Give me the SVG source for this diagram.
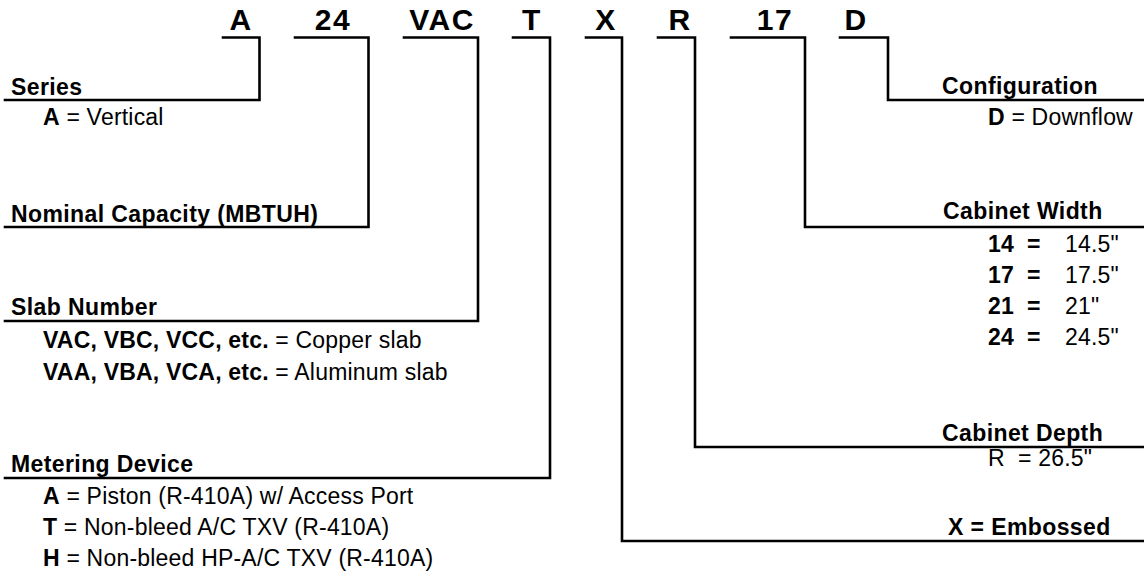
<svg xmlns="http://www.w3.org/2000/svg" width="1144" height="577" viewBox="0 0 1144 577">
<style>
  text { font-family: "Liberation Sans", Arial, sans-serif; fill: #000; }
  .code { font-size: 30px; font-weight: bold; letter-spacing: 1.5px; text-anchor: middle; }
  .hdr { font-size: 23px; font-weight: bold; letter-spacing: 0.4px; }
  .item { font-size: 23px; letter-spacing: 0.2px; }
  .b { font-weight: bold; }
  .ln { fill: none; stroke: #000; stroke-width: 2.6; stroke-linecap: square; stroke-linejoin: miter; }
</style>
<rect width="1144" height="577" fill="#fff"/>
<g id="codes">
  <text class="code" x="241" y="29.5">A</text>
  <text class="code" x="333" y="29.5">24</text>
  <text class="code" x="442" y="29.5">VAC</text>
  <text class="code" x="532" y="29.5">T</text>
  <text class="code" x="606" y="29.5">X</text>
  <text class="code" x="680" y="29.5">R</text>
  <text class="code" x="775" y="29.5">17</text>
  <text class="code" x="856" y="29.5">D</text>
</g>
<g id="connectors">
  <polyline class="ln" points="223,37.5 259.5,37.5 259.5,100 5,100"/>
  <polyline class="ln" points="295,37.5 368.5,37.5 368.5,227 5,227"/>
  <polyline class="ln" points="404,37.5 478,37.5 478,321 5,321"/>
  <polyline class="ln" points="513,37.5 550,37.5 550,478 5,478"/>
  <polyline class="ln" points="586,37.5 622,37.5 622,541 1145,541"/>
  <polyline class="ln" points="658,37.5 695,37.5 695,447 1145,447"/>
  <polyline class="ln" points="731,37.5 805,37.5 805,227 1145,227"/>
  <polyline class="ln" points="840,37.5 888,37.5 888,100 1145,100"/>
</g>
<g id="series">
  <text class="hdr" x="11" y="95">Series</text>
  <text class="item" x="43" y="125"><tspan class="b">A</tspan> = Vertical</text>
</g>
<g id="capacity">
  <text class="hdr" x="11" y="221.5">Nominal Capacity (MBTUH)</text>
</g>
<g id="slab">
  <text class="hdr" x="11" y="315">Slab Number</text>
  <text class="item" x="43" y="348"><tspan class="b">VAC, VBC, VCC, etc.</tspan> = Copper slab</text>
  <text class="item" x="43" y="380"><tspan class="b">VAA, VBA, VCA, etc.</tspan> = Aluminum slab</text>
</g>
<g id="metering">
  <text class="hdr" x="11" y="471.5">Metering Device</text>
  <text class="item" x="43" y="504"><tspan class="b">A</tspan> = Piston (R-410A) w/ Access Port</text>
  <text class="item" x="43" y="535"><tspan class="b">T</tspan> = Non-bleed A/C TXV (R-410A)</text>
  <text class="item" x="43" y="566"><tspan class="b">H</tspan> = Non-bleed HP-A/C TXV (R-410A)</text>
</g>
<g id="configuration">
  <text class="hdr" x="942" y="94">Configuration</text>
  <text class="item" x="988" y="125"><tspan class="b">D</tspan> = Downflow</text>
</g>
<g id="width">
  <text class="hdr" x="943" y="219">Cabinet Width</text>
  <text class="item" y="251.5"><tspan class="b" x="988">14</tspan><tspan class="b" x="1027">=</tspan><tspan x="1065">14.5"</tspan></text>
  <text class="item" y="282.5"><tspan class="b" x="988">17</tspan><tspan class="b" x="1027">=</tspan><tspan x="1065">17.5"</tspan></text>
  <text class="item" y="313.5"><tspan class="b" x="988">21</tspan><tspan class="b" x="1027">=</tspan><tspan x="1065">21"</tspan></text>
  <text class="item" y="344.5"><tspan class="b" x="988">24</tspan><tspan class="b" x="1027">=</tspan><tspan x="1065">24.5"</tspan></text>
</g>
<g id="depth">
  <text class="hdr" x="942" y="441">Cabinet Depth</text>
  <text class="item" x="988" y="466" xml:space="preserve" style="white-space: pre">R  = 26.5"</text>
</g>
<g id="embossed">
  <text class="hdr" x="948" y="535">X = Embossed</text>
</g>
</svg>
